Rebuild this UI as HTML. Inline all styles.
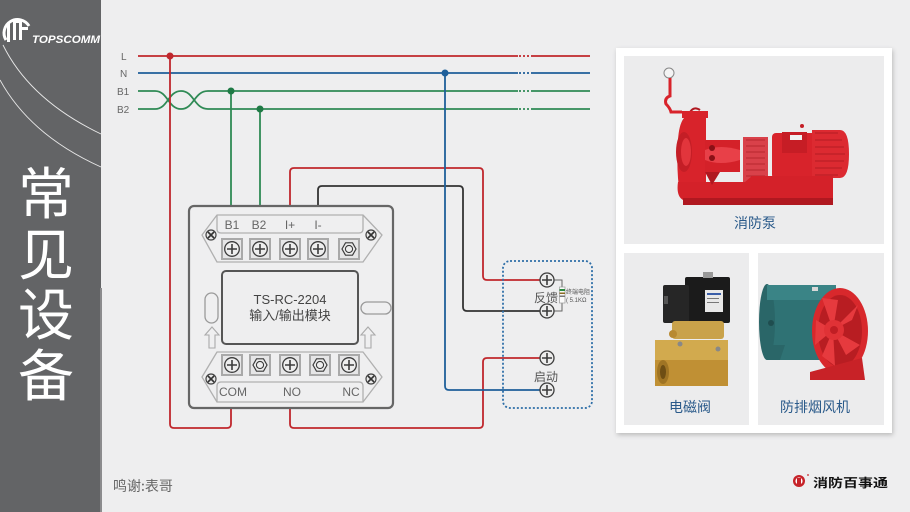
<!DOCTYPE html>
<html><head><meta charset="utf-8"><style>
html,body{margin:0;padding:0;background:#eeeeef;}
svg{display:block;}
text{font-family:"Liberation Sans","Noto Sans CJK SC",sans-serif;}
.cjk{font-family:"Noto Sans CJK SC","WenQuanYi Zen Hei",sans-serif;}
</style></head><body>
<svg width="910" height="512" viewBox="0 0 910 512" xmlns="http://www.w3.org/2000/svg">
<defs>
  <filter id="sh" x="-10%" y="-10%" width="120%" height="120%">
    <feDropShadow dx="1" dy="2" stdDeviation="2.5" flood-color="#000" flood-opacity="0.22"/>
  </filter>
  <g id="scr">
    <rect x="-10" y="-10" width="20" height="20" fill="#e6e6e7" stroke="#a9a9a9" stroke-width="2"/>
    <circle r="7.3" fill="#eeeeee" stroke="#3c3c3c" stroke-width="1.3"/>
    <path d="M-5,0H5M0,-5V5" stroke="#3c3c3c" stroke-width="1.6"/>
  </g>
  <g id="hex">
    <rect x="-10" y="-10" width="20" height="20" fill="#e6e6e7" stroke="#a9a9a9" stroke-width="2"/>
    <polygon points="-7,0 -3.5,-6.2 3.5,-6.2 7,0 3.5,6.2 -3.5,6.2" fill="#eee" stroke="#3c3c3c" stroke-width="1.2"/>
    <circle r="3.6" fill="none" stroke="#3c3c3c" stroke-width="1.1"/>
  </g>
  <g id="xs">
    <circle r="5" fill="#e8e8e8" stroke="#444" stroke-width="1.2"/>
    <path d="M-3,-3L3,3M3,-3L-3,3" stroke="#333" stroke-width="1.6"/>
  </g>
  <g id="term">
    <circle r="7" fill="#ededed" stroke="#3c3c3c" stroke-width="1.3"/>
    <path d="M-5,0H5M0,-5V5" stroke="#3c3c3c" stroke-width="1.6"/>
  </g>
</defs>

<!-- background -->
<rect x="0" y="0" width="910" height="512" fill="#eeeeef"/>

<!-- left panel -->
<rect x="0" y="0" width="101" height="512" fill="#636466"/>
<rect x="100" y="288" width="2" height="224" fill="#8b8b8d"/>
<path d="M3,45 Q30,100 101,134" fill="none" stroke="#e8e8e8" stroke-width="0.9"/>
<path d="M0,80 Q30,135 101,167" fill="none" stroke="#e8e8e8" stroke-width="0.9"/>
<!-- logo emblem -->
<path d="M6,40 A13,13 0 1 1 29,26" fill="none" stroke="#fff" stroke-width="3"/>
<rect x="7" y="23" width="3" height="19" fill="#fff"/>
<rect x="13" y="20" width="3" height="20" fill="#fff"/>
<rect x="19" y="20" width="3" height="20" fill="#fff"/>
<rect x="13" y="20" width="9" height="3" fill="#fff"/>
<rect x="19" y="27" width="9" height="3" fill="#fff"/>
<text x="32" y="43" font-size="11" font-weight="bold" font-style="italic" fill="#fff" textLength="68" lengthAdjust="spacingAndGlyphs">TOPSCOMM</text>
<!-- title -->
<g class="cjk" fill="#ffffff" font-size="56" text-anchor="middle">
  <text x="46" y="214" class="cjk">常</text>
  <text x="46" y="275" class="cjk">见</text>
  <text x="46" y="335" class="cjk">设</text>
  <text x="46" y="396" class="cjk">备</text>
</g>

<!-- bus line labels -->
<g font-size="10" fill="#666">
  <text x="121" y="60">L</text>
  <text x="120" y="77">N</text>
  <text x="117" y="95">B1</text>
  <text x="117" y="113">B2</text>
</g>

<!-- bus lines -->
<g fill="none" stroke-width="1.8">
  <path d="M138,56H518M533,56H590" stroke="#c0272d"/>
  <path d="M519,56H533" stroke="#c0272d" stroke-dasharray="2,2"/>
  <path d="M138,73H518M533,73H590" stroke="#1f5f9a"/>
  <path d="M519,73H533" stroke="#1f5f9a" stroke-dasharray="2,2"/>
  <path d="M138,91H155C168,91 168,109 181,109C194,109 194,91 208,91H518M533,91H590" stroke="#2f8a55"/>
  <path d="M519,91H533" stroke="#2f8a55" stroke-dasharray="2,2"/>
  <path d="M138,109H155C168,109 168,91 181,91C194,91 194,109 208,109H518M533,109H590" stroke="#2f8a55"/>
  <path d="M519,109H533" stroke="#2f8a55" stroke-dasharray="2,2"/>
</g>

<!-- wires -->
<g fill="none" stroke-width="1.8">
  <path d="M170,56V424Q170,428 174,428H227Q231,428 231,424V408" stroke="#c0272d"/>
  <path d="M290,408V424Q290,428 294,428H479Q483,428 483,424V362Q483,358 487,358H540" stroke="#c0272d"/>
  <path d="M290,206V172Q290,168 294,168H479Q483,168 483,172V276Q483,280 487,280H540" stroke="#c0272d"/>
  <path d="M318,206V190Q318,186 322,186H459Q463,186 463,190V307Q463,311 467,311H540" stroke="#333"/>
  <path d="M445,73V386Q445,390 449,390H540" stroke="#1f5f9a"/>
  <path d="M231,91V206" stroke="#2f8a55"/>
  <path d="M260,109V206" stroke="#2f8a55"/>
</g>
<circle cx="170" cy="56" r="3.5" fill="#c0272d"/>
<circle cx="445" cy="73" r="3.5" fill="#1f5f9a"/>
<circle cx="231" cy="91" r="3.5" fill="#1f7a45"/>
<circle cx="260" cy="109" r="3.5" fill="#1f7a45"/>

<!-- module -->
<rect x="189" y="206" width="204" height="202" rx="5" fill="#efeff0" stroke="#666" stroke-width="2.2"/>
<!-- top terminal block -->
<path d="M217,215H363L382,235L363,262H217L202,235Z" fill="none" stroke="#b0b0b0" stroke-width="1.3" stroke-linejoin="round"/>
<path d="M217,215V229Q217,233 221,233H359Q363,233 363,229V215" fill="none" stroke="#b0b0b0" stroke-width="1.3"/>
<g font-size="12" fill="#666" text-anchor="middle">
  <text x="232" y="229">B1</text>
  <text x="259" y="229">B2</text>
  <text x="290" y="229">I+</text>
  <text x="318" y="229">I-</text>
</g>
<use href="#scr" x="232" y="249"/>
<use href="#scr" x="260" y="249"/>
<use href="#scr" x="290" y="249"/>
<use href="#scr" x="318" y="249"/>
<use href="#hex" x="349" y="249"/>
<use href="#xs" x="211" y="235"/>
<use href="#xs" x="371" y="235"/>

<!-- display -->
<rect x="222" y="271" width="136" height="73" rx="4" fill="#eeeeef" stroke="#555" stroke-width="2"/>
<text x="290" y="304" font-size="13" fill="#444" text-anchor="middle">TS-RC-2204</text>
<text x="290" y="320" font-size="13" fill="#444" text-anchor="middle">输入/输出模块</text>

<!-- ovals & arrows -->
<rect x="205" y="293" width="13" height="30" rx="6.5" fill="none" stroke="#9a9a9a" stroke-width="1.3"/>
<rect x="361" y="302" width="30" height="12" rx="6" fill="none" stroke="#9a9a9a" stroke-width="1.3"/>
<polygon points="212,327 219,335 215,335 215,348 209,348 209,335 205,335" fill="none" stroke="#aaa" stroke-width="1.1"/>
<polygon points="368,327 375,335 371,335 371,348 365,348 365,335 361,335" fill="none" stroke="#aaa" stroke-width="1.1"/>

<!-- bottom terminal block -->
<path d="M217,352H363L382,377L363,402H217L202,377Z" fill="none" stroke="#b0b0b0" stroke-width="1.3" stroke-linejoin="round"/>
<path d="M217,402V386Q217,382 221,382H359Q363,382 363,386V402" fill="none" stroke="#b0b0b0" stroke-width="1.3"/>
<use href="#scr" x="232" y="365"/>
<use href="#hex" x="260" y="365"/>
<use href="#scr" x="290" y="365"/>
<use href="#hex" x="320" y="365"/>
<use href="#scr" x="349" y="365"/>
<use href="#xs" x="211" y="379"/>
<use href="#xs" x="371" y="379"/>
<g font-size="12" fill="#666" text-anchor="middle">
  <text x="233" y="396">COM</text>
  <text x="292" y="396">NO</text>
  <text x="351" y="396">NC</text>
</g>

<!-- dotted device box -->
<rect x="503" y="261" width="89" height="147" rx="7" fill="none" stroke="#2f6fa8" stroke-width="1.8" stroke-dasharray="2,2"/>
<path d="M554,280H562V288M562,303V311H554" fill="none" stroke="#666" stroke-width="1"/>
<rect x="559.5" y="287" width="5.5" height="16" fill="#fafafa" stroke="#999" stroke-width="0.7"/>
<rect x="559.5" y="289" width="5.5" height="2" fill="#2a8a40"/>
<rect x="559.5" y="292.5" width="5.5" height="1.5" fill="#8a6a20"/>
<rect x="559.5" y="295.5" width="5.5" height="1.5" fill="#777"/>
<text x="566" y="294" font-size="6" fill="#555" class="cjk">终端电阻</text>
<text x="566" y="302" font-size="6" fill="#555">( 5.1KΩ</text>
<use href="#term" x="547" y="280"/>
<use href="#term" x="547" y="311"/>
<use href="#term" x="547" y="358"/>
<use href="#term" x="547" y="390"/>
<text x="546" y="302" font-size="12" fill="#555" text-anchor="middle">反馈</text>
<text x="546" y="381" font-size="12" fill="#555" text-anchor="middle">启动</text>

<!-- right card -->
<rect x="616" y="48" width="276" height="385" fill="#ffffff" filter="url(#sh)"/>
<rect x="624" y="56" width="260" height="188" fill="#ececed"/>
<rect x="624" y="253" width="125" height="172" fill="#ececed"/>
<rect x="758" y="253" width="126" height="172" fill="#ececed"/>

<!-- pump -->
<g>
  <circle cx="669" cy="73" r="5" fill="#f4f4f4" stroke="#888" stroke-width="1"/>
  <path d="M670,78V96Q664,98 666,104Q670,108 671,112H682" fill="none" stroke="#d8232b" stroke-width="3"/>
  <path d="M690,112Q694,106 700,110" fill="none" stroke="#b01820" stroke-width="2"/>
  <rect x="682" y="111" width="26" height="7" fill="#d8232b"/>
  <path d="M684,118H706V196H680Q676,170 678,140Q679,124 684,118Z" fill="#d8232b"/>
  <ellipse cx="684" cy="152" rx="8" ry="20" fill="#c41e26"/>
  <ellipse cx="686" cy="152" rx="5" ry="14" fill="#e2353c"/>
  <path d="M705,140H740V172H705Z" fill="#d42129"/>
  <path d="M705,150Q720,144 740,150V160Q720,166 705,160Z" fill="#e84048"/>
  <circle cx="712" cy="148" r="3" fill="#8a1016"/>
  <circle cx="712" cy="158" r="3" fill="#8a1016"/>
  <rect x="743" y="137" width="25" height="46" fill="#d9414a"/>
  <path d="M746,140H765M746,146H765M746,152H765M746,158H765M746,164H765M746,170H765M746,176H765" stroke="#b8262e" stroke-width="1"/>
  <rect x="772" y="133" width="50" height="46" rx="4" fill="#d8232b"/>
  <path d="M812,130H840Q849,130 849,154Q849,178 840,178H812Z" fill="#dc2a31"/>
  <path d="M815,133H838M815,140H842M815,147H844M815,154H845M815,161H844M815,168H842M815,175H838" stroke="#b51c24" stroke-width="1"/>
  <rect x="782" y="132" width="25" height="21" fill="#c61d25"/>
  <rect x="790" y="135" width="12" height="5" fill="#f0f0f0"/>
  <circle cx="802" cy="126" r="2" fill="#c41e26"/>
  <path d="M678,182H745L752,176H833V200H683Q676,196 678,182Z" fill="#d42129"/>
  <path d="M683,198H833V205H683Z" fill="#b01820"/>
  <path d="M705,172L712,185L720,172Z" fill="#b01820"/>
</g>
<text x="755" y="228" font-size="14" fill="#2a5a8a" text-anchor="middle" class="cjk">消防泵</text>

<!-- valve -->
<g>
  <rect x="685" y="277" width="45" height="46" rx="2" fill="#1b1b1b"/>
  <rect x="663" y="285" width="26" height="38" rx="2" fill="#262626"/>
  <rect x="664" y="296" width="4" height="8" fill="#555"/>
  <rect x="705" y="290" width="18" height="22" fill="#e8e8e8"/>
  <rect x="707" y="293" width="14" height="2" fill="#3a5ea8"/>
  <rect x="707" y="298" width="12" height="1" fill="#777"/>
  <rect x="707" y="302" width="12" height="1" fill="#777"/>
  <rect x="703" y="272" width="10" height="6" fill="#999"/>
  <rect x="672" y="321" width="52" height="18" rx="3" fill="#c9a24a"/>
  <circle cx="673" cy="334" r="4" fill="#b88a30"/>
  <path d="M655,340H728V386H655Z" fill="#d2aa4e"/>
  <path d="M655,360H728V386H655Z" fill="#c09034"/>
  <ellipse cx="663" cy="372" rx="6" ry="12" fill="#9f7424"/>
  <ellipse cx="663" cy="372" rx="3" ry="7" fill="#6e4e14"/>
  <circle cx="680" cy="344" r="2.5" fill="#888"/>
  <circle cx="718" cy="349" r="2.5" fill="#888"/>
</g>
<text x="690" y="412" font-size="14" fill="#2a5a8a" text-anchor="middle" class="cjk">电磁阀</text>

<!-- fan -->
<g>
  <path d="M767,285H836V360H767Z" fill="#2f7274"/>
  <ellipse cx="767" cy="322" rx="8" ry="38" fill="#2a6668"/>
  <path d="M767,285H836V300H767Z" fill="#3a8486"/>
  <circle cx="771" cy="323" r="3" fill="#1f4d4f"/>
  <path d="M770,345L785,345L780,360H768Z" fill="#2a6668"/>
  <ellipse cx="840" cy="331" rx="28" ry="43" fill="#d8282c"/>
  <ellipse cx="840" cy="331" rx="22" ry="36" fill="#b81d22"/>
  <path d="M833,330L822,298L838,300Z M833,330L858,305L852,320Z M833,330L860,345L846,355Z M833,330L835,366L822,356Z M833,330L815,345L816,320Z" fill="#e63a3e"/>
  <circle cx="834" cy="330" r="10" fill="#e03236"/>
  <circle cx="834" cy="330" r="4" fill="#c01e24"/>
  <path d="M810,372L862,358L865,380H810Z" fill="#c82227"/>
  <rect x="812" y="287" width="6" height="4" fill="#d8d8d8"/>
</g>
<text x="815" y="412" font-size="14" fill="#2a5a8a" text-anchor="middle" class="cjk">防排烟风机</text>

<!-- footer -->
<text x="113" y="491" font-size="14" fill="#666" class="cjk">鸣谢:表哥</text>
<circle cx="799" cy="481" r="6" fill="#c62329"/>
<circle cx="799" cy="481" r="3.6" fill="#fff"/>
<path d="M797,478H801V485H797Z" fill="#c62329"/>
<circle cx="808" cy="475" r="0.9" fill="#c62329"/>
<text x="813" y="487" font-size="12" font-weight="bold" fill="#111" class="cjk" textLength="75" lengthAdjust="spacingAndGlyphs">消防百事通</text>
</svg>
</body></html>
